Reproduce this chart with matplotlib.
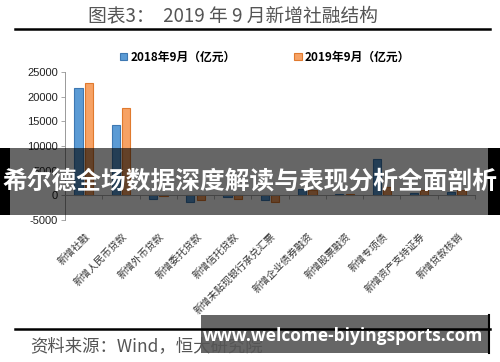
import matplotlib
matplotlib.use("Agg")
import matplotlib.pyplot as plt
import matplotlib.transforms as mtransforms
import numpy as np

plt.rcParams['font.family'] = ['Noto Sans CJK SC', 'DejaVu Sans']

# 数据 (亿元)
categories = ['新增社融', '新增人民币贷款', '新增外币贷款', '新增委托贷款', '新增信托贷款',
              '新增未贴现银行承兑汇票', '新增企业债券融资', '新增股票融资', '新增专项债',
              '新增资产支持证券', '新增贷款核销']
vals_2018 = [21700, 14300, -800, -1300, -400, -900, 1200, 200, 7400, 500, 600]
vals_2019 = [22700, 17800, -200, -1000, -800, -1400, 1000, 300, 1800, 1000, 1000]
yticks = [-5000, 0, 5000, 10000, 15000, 20000, 25000]

fig = plt.figure(figsize=(5.0, 3.62), dpi=100)
ax = fig.add_axes([0.13, 0.392, 0.82, 0.409])

x = np.arange(len(categories))
w = 0.22
ax.bar(x - 0.14, vals_2018, w, color='#5B9BD5', edgecolor='#3E78B2', linewidth=0.8,
       label='2018年9月（亿元）')
ax.bar(x + 0.14, vals_2019, w, color='#F7A264', edgecolor='#E07A2E', linewidth=0.8,
       label='2019年9月（亿元）')

ax.set_xlim(-0.5, len(categories) - 0.5)
ax.set_ylim(-5000, 25000)
ax.set_yticks(yticks)
ax.set_yticklabels([str(v) for v in yticks], fontsize=8,
                   family=['Liberation Sans Narrow', 'Liberation Sans', 'DejaVu Sans'],
                   color='#222222')
ax.tick_params(axis='y', length=3, width=0.6, color='#999999', pad=2)
for s in ['top', 'right']:
    ax.spines[s].set_visible(False)
ax.spines['left'].set_color('#999999')
ax.spines['left'].set_linewidth(0.7)
ax.spines['bottom'].set_position(('data', 0))
ax.spines['bottom'].set_color('#aaaaaa')
ax.spines['bottom'].set_linewidth(0.7)
ax.set_xticks(np.arange(len(categories) + 1) - 0.5)
ax.set_xticklabels([])
ax.tick_params(axis='x', length=3, width=0.6, color='#aaaaaa', direction='out')

trans = mtransforms.blended_transform_factory(ax.transData, ax.transAxes)
for i, c in enumerate(categories):
    ax.text(i + 0.02, -0.075, c, transform=trans, rotation=45, ha='right', va='top',
            rotation_mode='anchor', fontsize=7.2, color='#333333')

# 图例
fig.legend(loc='upper center', bbox_to_anchor=(0.53, 0.89), ncol=2, frameon=False,
           handlelength=0.6, handleheight=0.6, handletextpad=0.3,
           columnspacing=5.0, prop={'weight': 'bold', 'size': 8.5})

# 标题与线
fig.text(0.465, 0.956, '图表3：  2019 年 9 月新增社融结构', ha='center', va='center',
         fontsize=13.5, color='#555555')
fig.add_artist(plt.Line2D([0.03, 0.98], [0.92, 0.92], color='black', lw=1.8))
fig.add_artist(plt.Line2D([0.03, 0.98], [0.09, 0.09], color='black', lw=1.8))
fig.text(0.06, 0.045, '资料来源：Wind，恒大研究院', ha='left', va='center',
         fontsize=12.5, color='#555555', style='italic')

# 水印横幅
fig.add_artist(plt.Rectangle((0, 1 - 215 / 362), 1, 67 / 362, transform=fig.transFigure,
                             color='black', alpha=0.6, lw=0))
fig.add_artist(plt.Rectangle((0, 1 - 215 / 362), 0.02, 67 / 362, transform=fig.transFigure,
                             color='black', lw=0))
fig.add_artist(plt.Rectangle((0.976, 1 - 215 / 362), 0.024, 67 / 362, transform=fig.transFigure,
                             color='black', lw=0))
fig.text(0.5, 1 - 181 / 362, '希尔德全场数据深度解读与表现分析全面剖析', ha='center', va='center',
         fontsize=17.8, color='white', weight='bold')

fig.add_artist(plt.Rectangle((0.402, 1 - 353 / 362), 0.576, 38 / 362, transform=fig.transFigure,
                             color='black', alpha=0.6, lw=0))
fig.add_artist(plt.Line2D([0.978, 0.978], [1 - 353 / 362, 1 - 315 / 362], color='black', lw=1.5))
fig.text(0.685, 1 - 336 / 362, 'www.welcome-biyingsports.com', ha='center', va='center',
         fontsize=12.5, color='white', weight='bold', family=['Open Sans', 'DejaVu Sans'])

fig.savefig('out.png', dpi=100)
